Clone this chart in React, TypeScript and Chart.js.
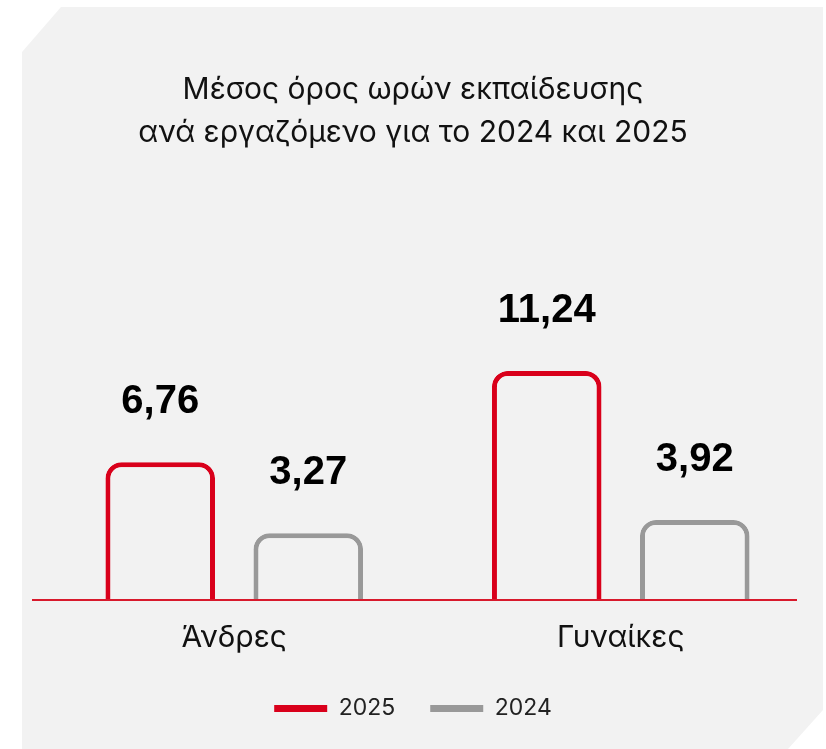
import { useEffect, useRef } from 'react';
import { Chart, registerables } from 'chart.js';

Chart.register(...registerables);

const categories = ['Άνδρες', 'Γυναίκες'];
const seriesNames = ['2025', '2024'];
const values2025 = [6.76, 11.24];
const values2024 = [3.27, 3.92];
const titleLines = ['Μέσος όρος ωρών εκπαίδευσης', 'ανά εργαζόμενο για το 2024 και 2025'];

const RED = '#d9001b';
const GRAY = '#999999';
const PANEL = '#f2f2f2';
const FONT = "Inter, 'Liberation Sans', Arial, sans-serif";
const BOLD_FONT = "'Liberation Sans', Arial, sans-serif";

const panelPlugin = {
  id: 'panelBg',
  beforeDraw(chart: any) {
    const ctx = chart.ctx;
    ctx.save();
    ctx.fillStyle = PANEL;
    ctx.beginPath();
    ctx.moveTo(22, 52);
    ctx.lineTo(61, 7);
    ctx.lineTo(823, 7);
    ctx.lineTo(823, 710);
    ctx.lineTo(788, 749);
    ctx.lineTo(22, 749);
    ctx.closePath();
    ctx.fill();
    ctx.restore();
  },
};

const baselineAndLabels = {
  id: 'baselineAndLabels',
  afterDatasetsDraw(chart: any) {
    const ctx = chart.ctx;
    const y0 = chart.scales.y.getPixelForValue(0);
    ctx.save();
    ctx.strokeStyle = '#d81a2c';
    ctx.lineWidth = 2;
    ctx.beginPath();
    ctx.moveTo(chart.chartArea.left - 9, y0);
    ctx.lineTo(chart.chartArea.right - 17, y0);
    ctx.stroke();

    ctx.fillStyle = '#000000';
    ctx.font = `bold 40px ${BOLD_FONT}`;
    ctx.textAlign = 'center';
    ctx.textBaseline = 'middle';
    chart.data.datasets.forEach((ds: any, di: number) => {
      const meta = chart.getDatasetMeta(di);
      meta.data.forEach((bar: any, i: number) => {
        const v = ds.data[i] as number;
        ctx.fillText(v.toFixed(2).replace('.', ','), bar.x, bar.y - 60);
      });
    });
    ctx.restore();
  },
};

export default function App() {
  const ref = useRef<HTMLCanvasElement | null>(null);

  useEffect(() => {
    if (!ref.current) return;
    const common = {
      backgroundColor: PANEL,
      borderWidth: 5,
      borderRadius: { topLeft: 16, topRight: 16, bottomLeft: 0, bottomRight: 0 },
      borderSkipped: 'start',
      categoryPercentage: 0.766,
      barPercentage: 0.74,
    };
    const chart = new Chart(ref.current, {
      type: 'bar',
      data: {
        labels: categories,
        datasets: [
          { ...common, label: seriesNames[0], data: values2025, borderColor: RED },
          { ...common, label: seriesNames[1], data: values2024, borderColor: GRAY },
        ],
      },
      options: {
        responsive: false,
        animation: false,
        layout: { padding: { left: 0, right: 0, top: 0, bottom: 19 } },
        scales: {
          x: {
            grid: { display: false, drawTicks: false },
            border: { display: false },
            ticks: {
              padding: 20,
              color: '#111111',
              font: { family: FONT, size: 30 },
            },
            afterFit: (scale: any) => {
              scale.height = 62;
            },
          },
          y: {
            min: 0,
            max: 21,
            display: true,
            grid: { display: false, drawTicks: false },
            border: { display: false },
            ticks: { display: false },
            afterFit: (scale: any) => {
              scale.width = 41;
            },
          },
          y2: {
            position: 'right',
            display: true,
            grid: { display: false, drawTicks: false },
            border: { display: false },
            ticks: { display: false },
            afterFit: (scale: any) => {
              scale.width = 12;
            },
          },
        },
        plugins: {
          title: {
            display: true,
            text: titleLines,
            color: '#111111',
            font: { family: FONT, size: 30, weight: 'normal', lineHeight: '43px' },
            padding: { top: 68, bottom: 18 },
          },
          legend: {
            display: true,
            position: 'bottom',
            labels: {
              boxWidth: 53,
              boxHeight: 7,
              padding: 35,
              color: '#222222',
              font: { family: FONT, size: 23 },
              generateLabels: (c: any) => {
                const items = Chart.defaults.plugins.legend.labels.generateLabels(c);
                return items.map((it: any) => ({
                  ...it,
                  fillStyle: it.strokeStyle,
                  lineWidth: 0,
                  borderRadius: 0,
                }));
              },
            },
          },
          tooltip: { enabled: false },
        },
      } as any,
      plugins: [panelPlugin, baselineAndLabels],
    });
    return () => chart.destroy();
  }, []);

  return (
    <div style={{ position: 'absolute', left: 0, top: 0, width: 826, height: 749 }}>
      <canvas ref={ref} width={826} height={749} style={{ display: 'block' }} />
    </div>
  );
}
